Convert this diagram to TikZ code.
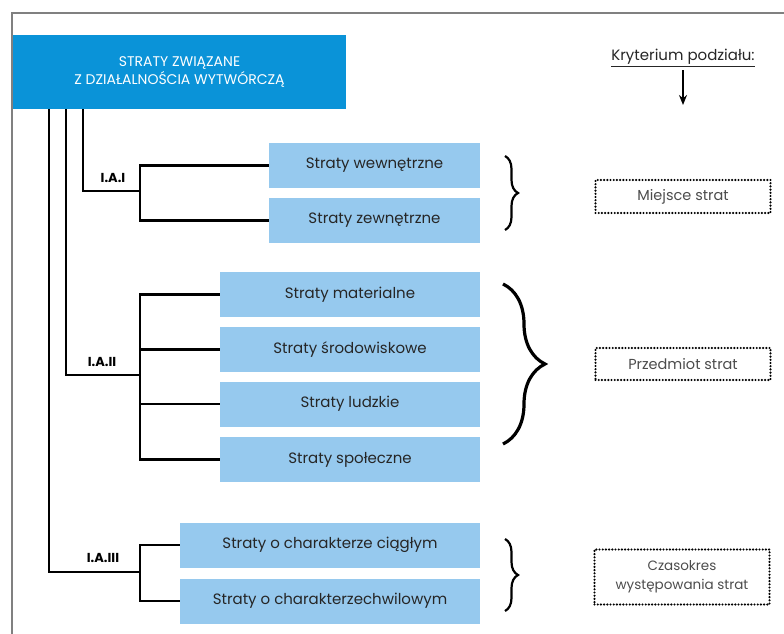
\documentclass[tikz,border=0pt]{standalone}
\usepackage{fontspec}
\setmainfont{Poppins}
\usetikzlibrary{arrows.meta,decorations.pathreplacing}
\definecolor{naglowek}{HTML}{0A93D8}
\definecolor{jasny}{HTML}{96C9EE}
\begin{document}
\begin{tikzpicture}[x=1pt,y=-1pt,
                hd/.style={fill=naglowek, text=white, align=center, inner sep=0pt, minimum width=333pt, minimum height=74pt, font=\fontsize{14}{18}\selectfont},
                bx/.style={fill=jasny, inner sep=0pt, minimum height=45pt, font=\fontsize{15}{17}\selectfont, text=black!85},
                kr/.style={draw, dash pattern=on 0pt off 3.2pt, line width=2.4pt, line cap=round, align=center, inner sep=0pt, minimum width=175pt, font=\fontsize{14.5}{19}\selectfont, text=black!70},
                ln/.style={line width=2.6pt},
                lb/.style={font=\fontsize{13}{15}\selectfont\bfseries},
                br/.style={decorate, decoration={brace, amplitude=#1}, line width=2.2pt}
            ]
            \useasboundingbox (0,0) rectangle (784,634);
            \draw[gray, line width=1.8pt] (12,634) -- (12,13) -- (784,13);
            \node[hd] (hdr) at (179.5,72) {STRATY ZWIĄZANE\\Z DZIAŁALNOŚCIA WYTWÓRCZĄ};
            % grupa I.A.I
            \node[bx, minimum width=211pt] (wew) at (374.5,165.5) {Straty wewnętrzne};
            \node[bx, minimum width=211pt] (zew) at (374.5,220.5) {Straty zewnętrzne};
            % grupa I.A.II
            \node[bx, minimum width=260pt] (mat) at (350,294.5) {Straty materialne};
            \node[bx, minimum width=260pt] (sro) at (350,349.5) {Straty środowiskowe};
            \node[bx, minimum width=260pt] (lud) at (350,404) {Straty ludzkie};
            \node[bx, minimum width=260pt] (spo) at (350,459.5) {Straty społeczne};
            % grupa I.A.III
            \node[bx, minimum width=300pt] (cia) at (330,545) {Straty o charakterze ciągłym};
            \node[bx, minimum width=300pt] (chw) at (330,601) {Straty o charakterzechwilowym};
            \coordinate (k1) at (83,191);
            \coordinate (k2) at (66,375);
            \coordinate (k3) at (49,572);
            \coordinate (j1) at (140,191);
            \coordinate (j2) at (140,375);
            \coordinate (j3) at (140,572);
            \draw[ln] (hdr.south -| k1) -- (k1) -- (j1);
            \draw[ln] (hdr.south -| k2) -- (k2) -- (j2);
            \draw[ln] (hdr.south -| k3) -- (k3) -- (j3);
            \draw[ln] (j1) |- (wew.west);
            \draw[ln] (j1) |- (zew.west);
            \draw[ln] (j2) |- (mat.west);
            \draw[ln] (j2) |- (sro.west);
            \draw[ln] (j2) |- (lud.west);
            \draw[ln] (j2) |- (spo.west);
            \draw[ln] (j3) |- (cia.west);
            \draw[ln] (j3) |- (chw.west);
            \node[lb] (la1) at (113,178) {I.A.I};
            \node[lb] (la2) at (102,362) {I.A.II};
            \node[lb] (la3) at (103,558) {I.A.III};
            % klamry
            \draw[br=13pt] (505,156) -- (505,230);
            \draw[br=42pt, line width=3.2pt] (503,284) -- (503,444);
            \draw[br=13pt] (505,539) -- (505,611);
            % kryteria
            \node[font=\fontsize{15}{17}\selectfont, text=black!85] (kryt) at (683,58) {\underline{Kryterium podziału:}};
            \coordinate (strz) at (683,105);
            \draw[line width=2.6pt, -{Stealth[length=10pt,width=8pt]}] (kryt.south) -- (strz);
            \node[kr, minimum height=33pt] (miej) at (683,196.5) {Miejsce strat};
            \node[kr, minimum height=32pt] (przed) at (683,364) {Przedmiot strat};
            \node[kr, minimum height=55pt, font=\fontsize{13.5}{19}\selectfont] (czas) at (682,577) {Czasokres\\występowania strat};
            \end{tikzpicture}
\end{document}
